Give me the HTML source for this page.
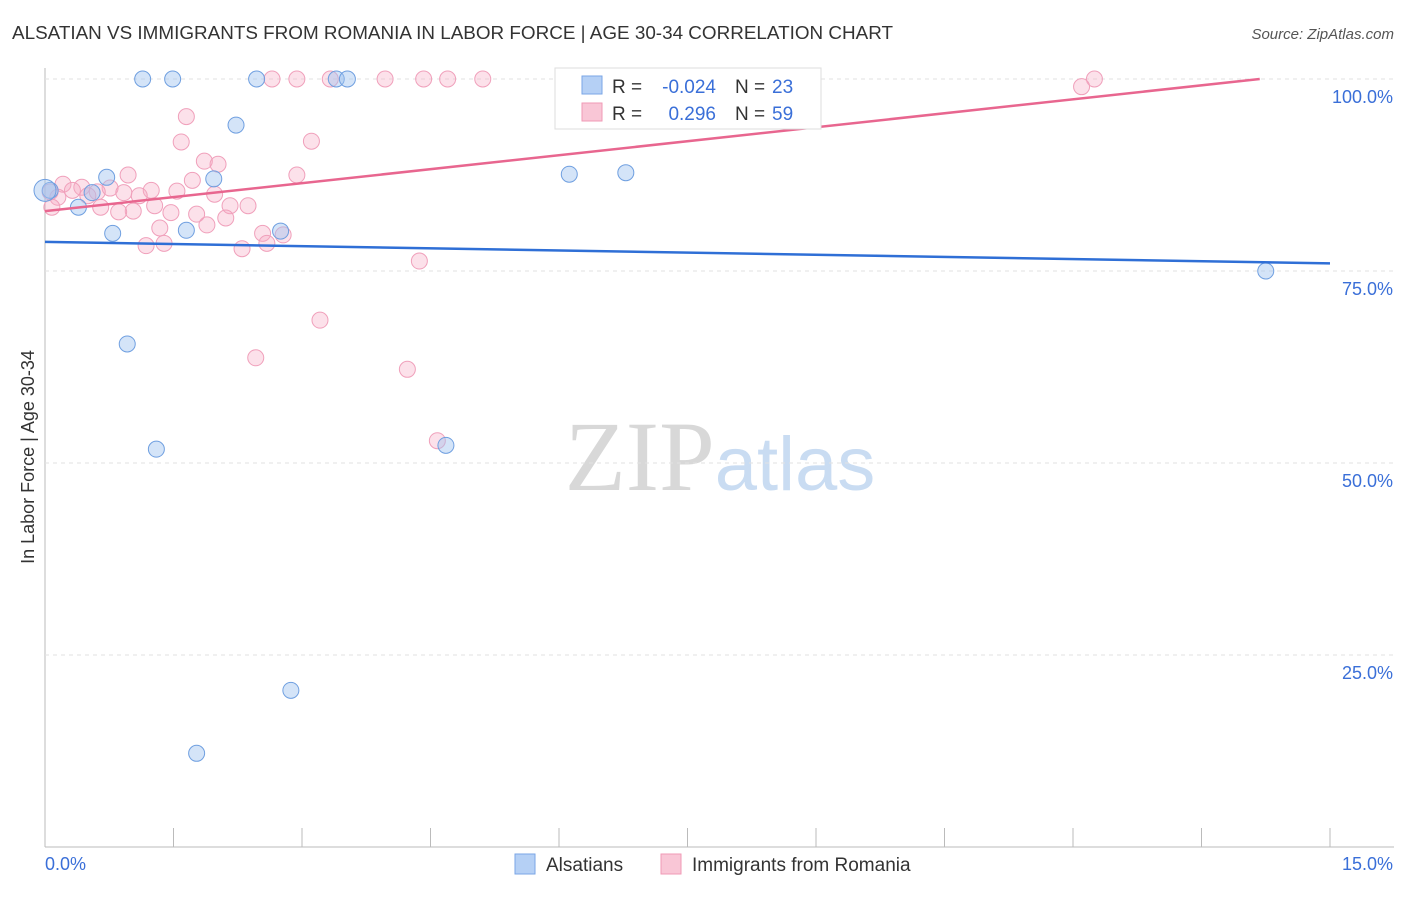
<!DOCTYPE html>
<html><head><meta charset="utf-8"><style>
body{margin:0;background:#fff;font-family:"Liberation Sans",sans-serif}
</style></head><body>
<svg id="chart" width="1406" height="892" xmlns="http://www.w3.org/2000/svg" font-family="Liberation Sans, sans-serif">
<text x="12" y="39" font-size="18" fill="#333" textLength="881" lengthAdjust="spacingAndGlyphs">ALSATIAN VS IMMIGRANTS FROM ROMANIA IN LABOR FORCE | AGE 30-34 CORRELATION CHART</text>
<text x="1394" y="39" font-size="15" fill="#555" text-anchor="end" font-style="italic">Source: ZipAtlas.com</text>
<text x="720" y="490" font-size="100" text-anchor="middle"><tspan fill="#d8d8d8" font-family="Liberation Serif, serif">ZIP</tspan><tspan fill="#c9dcf2" font-size="76">atlas</tspan></text>
<text transform="translate(34,457) rotate(-90)" font-size="18" fill="#333" text-anchor="middle">In Labor Force | Age 30-34</text>
<g id="grid"></g><g id="marks"></g>
<g>
<rect x="555" y="68" width="266" height="61" fill="#fff" stroke="#ddd"/>
<rect x="582" y="76" width="20" height="18" fill="#b5d0f5" stroke="#7aa6e6"/>
<rect x="582" y="103" width="20" height="18" fill="#f9c6d6" stroke="#f09ab6"/>
<text x="612" y="93" font-size="19" fill="#333">R =</text>
<text x="716" y="93" font-size="19" fill="#3a6fd8" text-anchor="end">-0.024</text>
<text x="735" y="93" font-size="19" fill="#333">N =</text>
<text x="772" y="93" font-size="19" fill="#3a6fd8">23</text>
<text x="612" y="120" font-size="19" fill="#333">R =</text>
<text x="716" y="120" font-size="19" fill="#3a6fd8" text-anchor="end">0.296</text>
<text x="735" y="120" font-size="19" fill="#333">N =</text>
<text x="772" y="120" font-size="19" fill="#3a6fd8">59</text>
</g>
<g>
<rect x="515" y="854" width="20" height="20" fill="#b5d0f5" stroke="#7aa6e6"/>
<text x="546" y="871" font-size="19" fill="#333">Alsatians</text>
<rect x="661" y="854" width="20" height="20" fill="#f9c6d6" stroke="#f09ab6"/>
<text x="692" y="871" font-size="19" fill="#333">Immigrants from Romania</text>
</g>
</svg>
<script>
const xTicks=[0,1.5,3,4.5,6,7.5,9,10.5,12,13.5,15];
const yTicks=[25,50,75,100];
const yTickLabels=["25.0%","50.0%","75.0%","100.0%"];
const blueX=[1.14,1.49,2.47,3.40,3.53,2.23,0.72,1.97,0.39,0.79,1.65,2.75,0.06,0.55,0.96,1.30,4.68,2.87,1.77,6.12,6.78,14.25,0.0];
const blueY=[100,100,100,100,100,94.0,87.2,87.0,83.3,79.9,80.3,80.2,85.5,85.2,65.5,51.8,52.3,20.4,12.2,87.6,87.8,75.0,85.5];
const pinkX=[2.65,2.94,3.33,3.97,4.42,4.70,5.11,12.25,12.10,1.65,1.59,3.11,1.86,2.02,0.97,2.94,1.72,0.21,0.43,0.76,1.24,1.54,0.92,0.61,1.98,0.15,0.50,1.10,0.65,1.28,2.37,2.16,1.03,0.86,1.47,1.77,2.11,1.89,1.34,2.54,2.78,1.39,1.18,2.59,2.30,4.37,3.21,2.46,4.23,4.58,0.08,0.32,0.06];
const pinkY=[100,100,100,100,100,100,100,100,99.0,95.1,91.8,91.9,89.3,88.9,87.5,87.5,86.8,86.3,85.9,85.8,85.5,85.4,85.2,85.3,85.0,84.6,84.8,84.8,83.3,83.5,83.5,83.5,82.8,82.7,82.6,82.4,81.9,81.0,80.6,79.9,79.7,78.6,78.3,78.6,77.9,76.3,68.6,63.7,62.2,52.9,83.3,85.5,85.3];
const blueTrend=[78.8,76.0];
const pinkTrend=[82.8,1.213];
const X=v=>45+v/15*1285, Y=v=>847-v*7.68;
const NS="http://www.w3.org/2000/svg";
function mk(p,t,a){const e=document.createElementNS(NS,t);for(const k in a)e.setAttribute(k,a[k]);p.appendChild(e);return e;}
const g=document.getElementById('grid'), m=document.getElementById('marks');
let ax=mk(g,'line',{x1:45,y1:68,x2:45,y2:847,stroke:'#bbb'});


let bx=mk(g,'line',{x1:45,y1:847,x2:1394,y2:847,stroke:'#bbb'});


xTicks.forEach(t=>{const l=mk(g,'line',{x1:X(t),y1:828,x2:X(t),y2:847,stroke:'#bbb'});

});
yTicks.forEach((t,i)=>{const l=mk(g,'line',{x1:45,y1:Y(t),x2:1394,y2:Y(t),stroke:'#e2e2e2','stroke-dasharray':'4,4'});


const tx=mk(g,'text',{x:1393,y:Y(t)+24,'font-size':18,fill:'#3a6fd8','text-anchor':'end'});tx.textContent=yTickLabels[i];

});
const x0=mk(g,'text',{x:45,y:870,'font-size':18,fill:'#3a6fd8'});x0.textContent='0.0%';


const x1=mk(g,'text',{x:1393,y:870,'font-size':18,fill:'#3a6fd8','text-anchor':'end'});x1.textContent='15.0%';


pinkX.forEach((v,i)=>{const c=mk(m,'circle',{cx:X(v),cy:Y(pinkY[i]),r:8,fill:'rgba(246,170,196,0.35)',stroke:'#f0a0bb','stroke-width':1});

});
blueX.forEach((v,i)=>{const c=mk(m,'circle',{cx:X(v),cy:Y(blueY[i]),r:i==blueX.length-1?11:8,fill:'rgba(160,195,240,0.45)',stroke:'#6f9fe0','stroke-width':1});

});
const bl=mk(m,'line',{x1:X(0),y1:Y(blueTrend[0]),x2:X(15),y2:Y(blueTrend[1]),stroke:'#2f6fd6','stroke-width':2.5});


const xe=(100-pinkTrend[0])/pinkTrend[1];
const pl=mk(m,'line',{x1:X(0),y1:Y(pinkTrend[0]),x2:X(Math.min(15,xe)),y2:Y(pinkTrend[0]+pinkTrend[1]*Math.min(15,xe)),stroke:'#e8668f','stroke-width':2.5});


</script>
</body></html>
